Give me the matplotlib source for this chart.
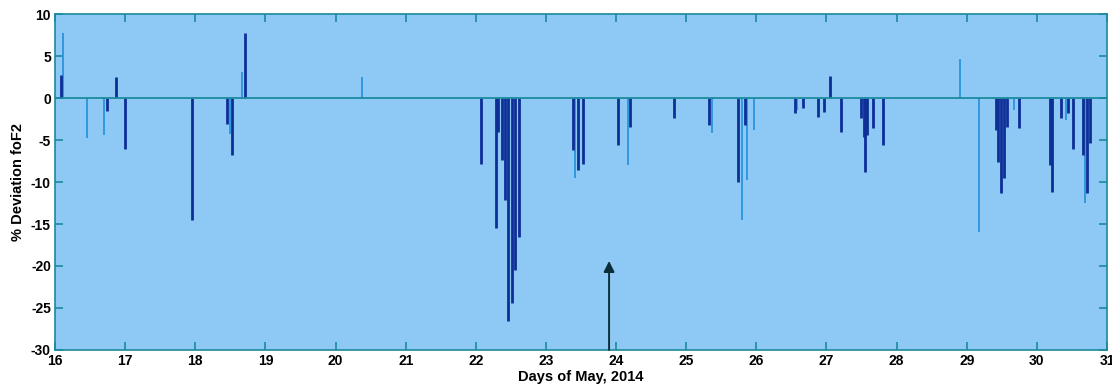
import matplotlib.pyplot as plt

plt.rcParams['axes.unicode_minus'] = False

# foF2 percentage deviation, May 2014 (two stations)
dark_days = [16.09, 16.74, 16.87, 17.00, 17.96, 18.45, 18.53, 18.71,
             22.08, 22.29, 22.32, 22.37, 22.42, 22.46, 22.51, 22.56, 22.62,
             23.38, 23.45, 23.53, 24.03, 24.20, 24.83, 25.33, 25.74, 25.84,
             26.55, 26.66, 26.88, 26.96, 27.05, 27.21, 27.49, 27.53, 27.55,
             27.58, 27.66, 27.80,
             29.42, 29.45, 29.49, 29.53, 29.58, 29.75, 30.19, 30.21, 30.34,
             30.45, 30.51, 30.66, 30.71, 30.76]
dark_vals = [2.7, -1.6, 2.5, -6.1, -14.5, -3.1, -6.8, 7.8,
             -7.8, -15.5, -4.0, -7.4, -12.1, -26.6, -24.4, -20.5, -16.5,
             -6.2, -8.6, -7.8, -5.6, -3.4, -2.4, -3.2, -10.0, -3.2,
             -1.8, -1.2, -2.2, -1.7, 2.6, -4.0, -2.4, -4.6, -8.8,
             -4.4, -3.6, -5.6,
             -3.8, -7.6, -11.3, -9.5, -3.4, -3.6, -8.0, -11.2, -2.4,
             -1.8, -6.1, -6.8, -11.3, -5.4]

light_days = [16.12, 16.45, 16.70, 18.50, 18.67, 20.38,
              23.41, 24.17, 25.37, 25.79, 25.86, 25.96, 26.58,
              28.90, 29.18, 29.67, 30.42, 30.69]
light_vals = [7.7, -4.8, -4.4, -4.3, 3.1, 2.5,
              -9.5, -8.0, -4.2, -14.5, -9.8, -3.8, -1.4,
              4.7, -15.9, -1.4, -2.6, -12.5]

arrow_day = 23.90
arrow_tip = -19.4

teal = '#1b8a9c'

fig = plt.figure(figsize=(11.12, 3.9), dpi=100)
ax = fig.add_axes([0.0495, 0.1026, 0.946, 0.8614])
ax.set_facecolor('#8ec9f5')

ax.vlines(light_days, 0, light_vals, color='#2b93dc', linewidth=1.3, zorder=2)
ax.vlines(dark_days, 0, dark_vals, color='#0d2f96', linewidth=2.0, zorder=3)
ax.axhline(0, color=teal, linewidth=1.3, zorder=4)

# event marker
ax.annotate('', xy=(arrow_day, arrow_tip), xytext=(arrow_day, -30),
            arrowprops=dict(arrowstyle='-|>', color='#0b2f3a', lw=1.4,
                            mutation_scale=16, shrinkA=0, shrinkB=0),
            zorder=5)

ax.set_xlim(16, 31)
ax.set_ylim(-30, 10)
ax.set_xticks(range(16, 32))
ax.set_yticks(range(-30, 11, 5))

for s in ax.spines.values():
    s.set_color(teal)
    s.set_linewidth(1.2)
ax.tick_params(direction='in', length=6, width=1.2, color=teal,
               top=True, right=True, labelsize=10, pad=3)
for lbl in ax.get_xticklabels() + ax.get_yticklabels():
    lbl.set_fontweight('bold')
    lbl.set_fontfamily('Liberation Sans')

ax.set_xlabel('Days of May, 2014', fontsize=10.5, fontweight='bold',
              family='Liberation Sans', labelpad=1)
ax.set_ylabel('% Deviation foF2', fontsize=10.5, fontweight='bold',
              family='Liberation Sans', labelpad=4)

fig.savefig('out.png', dpi=100)
